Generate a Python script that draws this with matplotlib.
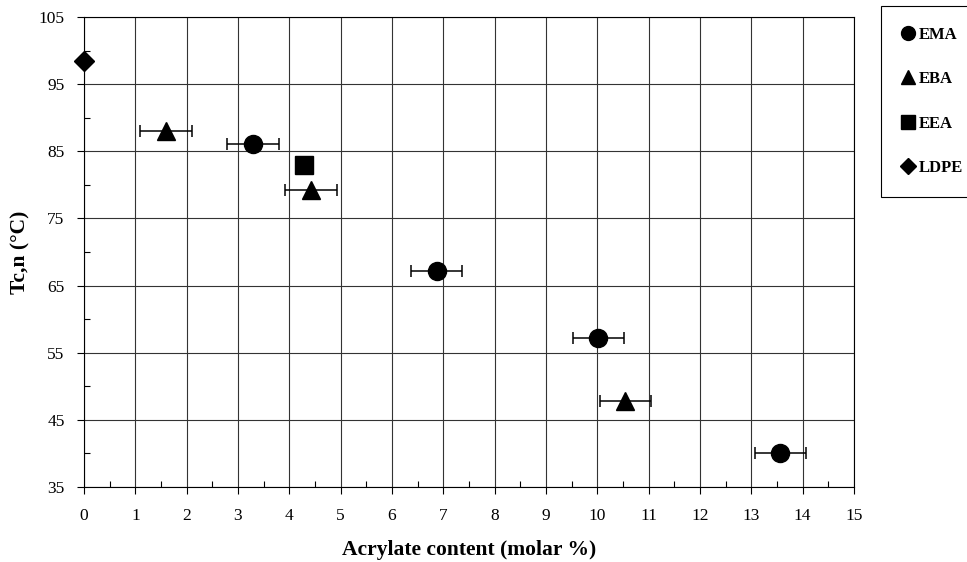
import matplotlib.pyplot as plt
from matplotlib.lines import Line2D
import numpy as np

# Tc,n versus acrylate content for each copolymer
ema_x = [3.29, 6.87, 10.02, 13.57]
ema_y = [86.1, 67.2, 57.2, 40.1]
ema_err = [0.5, 0.5, 0.5, 0.5]

eba_x = [1.6, 4.42, 10.55]
eba_y = [88.0, 79.2, 47.8]
eba_err = [0.5, 0.5, 0.5]

eea_x = [4.28]
eea_y = [83.0]

ldpe_x = [0.0]
ldpe_y = [98.5]

series_names = ['EMA', 'EBA', 'EEA', 'LDPE']
x_ticks = list(range(0, 16))
y_ticks = [35, 45, 55, 65, 75, 85, 95, 105]

plt.rcParams['font.family'] = ['Liberation Serif', 'DejaVu Serif']

fig = plt.figure(figsize=(9.67, 5.62), dpi=100)
ax = fig.add_axes([0.0869, 0.1335, 0.7961, 0.8363])

ax.errorbar(ema_x, ema_y, xerr=ema_err, fmt='o', color='black', markersize=13,
            ecolor='black', elinewidth=1.1, capsize=4, capthick=1.1, zorder=3)
ax.errorbar(eba_x, eba_y, xerr=eba_err, fmt='^', color='black', markersize=13,
            ecolor='black', elinewidth=1.1, capsize=4, capthick=1.1, zorder=3)
ax.plot(eea_x, eea_y, 's', color='black', markersize=13, zorder=3)
ax.plot(ldpe_x, ldpe_y, 'D', color='black', markersize=10, zorder=3, clip_on=False)

ax.set_xlim(0, 15)
ax.set_ylim(35, 105)
ax.set_xticks(x_ticks)
ax.set_yticks(y_ticks)
ax.set_xticks(np.arange(0.5, 15, 1), minor=True)
ax.set_yticks(np.arange(40, 105, 10), minor=True)
ax.tick_params(which='major', direction='out', length=5, width=0.8, labelsize=12.5)
ax.tick_params(axis='x', which='major', pad=10)
ax.tick_params(axis='y', which='major', pad=9)
ax.tick_params(which='minor', direction='in', length=4, width=0.8)
ax.grid(True, which='major', color='#333333', linewidth=0.8)
ax.set_axisbelow(True)
for s in ax.spines.values():
    s.set_linewidth(0.8)

ax.set_xlabel('Acrylate content (molar %)', fontsize=15.5, fontweight='bold', labelpad=12)
ax.set_ylabel('Tc,n (°C)', fontsize=15.5, fontweight='bold', labelpad=6)

# legend with plain markers (no error bars)
markers = ['o', '^', 's', 'D']
sizes = [10, 10, 10, 8]
handles = [Line2D([], [], linestyle='none', marker=m, markersize=ms, color='black')
           for m, ms in zip(markers, sizes)]
leg = fig.legend(handles, series_names, loc='upper left', bbox_to_anchor=(881 / 967, 1 - 6 / 562),
                 fancybox=False, edgecolor='black', framealpha=1,
                 prop={'weight': 'bold', 'size': 12},
                 handlelength=0.7, handletextpad=0.3, labelspacing=1.7, borderpad=1.25,
                 borderaxespad=0)
leg.get_frame().set_linewidth(0.8)

fig.savefig('out.png', dpi=100)
